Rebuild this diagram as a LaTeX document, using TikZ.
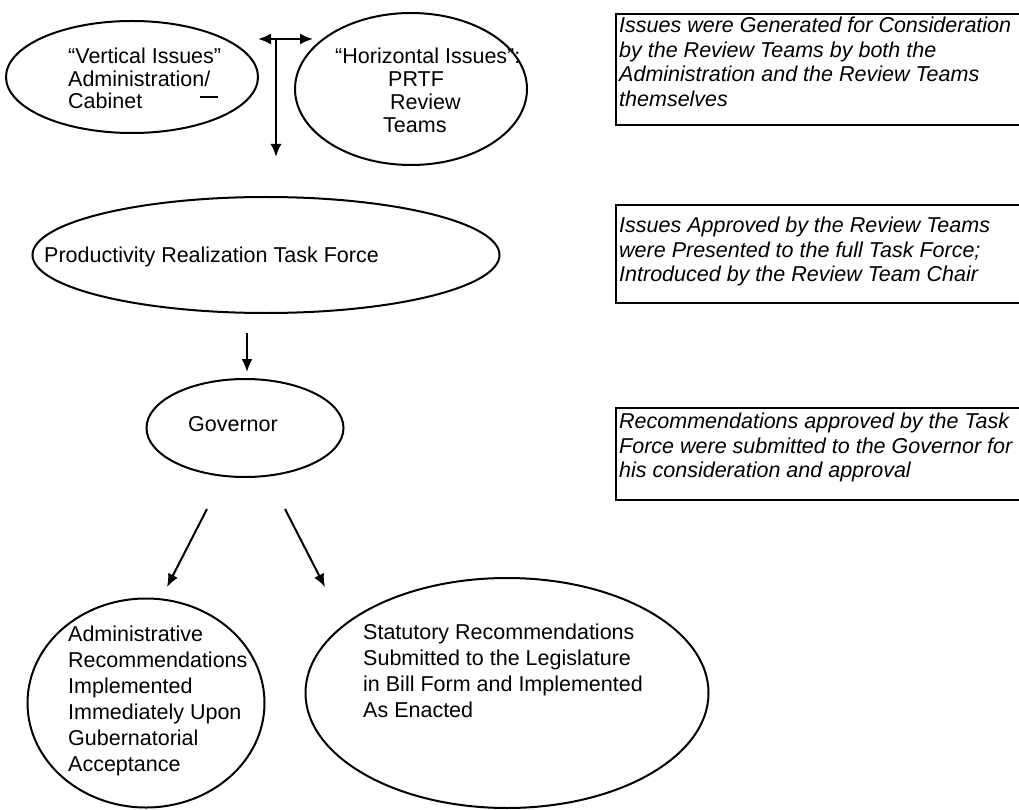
\documentclass[tikz,border=0pt]{standalone}
\usepackage{fontspec}
\setmainfont{Liberation Sans}
\usetikzlibrary{shapes.geometric,arrows.meta}

\newcommand{\txtsz}[1]{\fontsize{21.5}{#1}\selectfont}

\begin{document}
\begin{tikzpicture}[x=1pt, y=-1pt,
  bubble/.style={draw, ellipse, line width=2pt, inner sep=0pt},
  words/.style={anchor=north west, align=left, inner sep=0pt, font=\txtsz{24}},
  frame/.style={draw, line width=1.4pt},
  flow/.style={line width=2pt, -{Latex[length=13pt,width=11pt]}}]
\useasboundingbox (0,0) rectangle (1019,810);

% where the issues come from
\node[bubble, minimum width=252, minimum height=112] (vert) at (132,77) {};
\node[words, font=\txtsz{22.5}] (vertlbl) at (68,48) {“Vertical Issues”\\Administration/\\Cabinet};
\draw[line width=2pt] (200,97) -- (218,97);
\node[bubble, minimum width=232, minimum height=152] (horiz) at (411,89) {};
\node[words, font=\txtsz{23}] (horizlbl) at (335,48) {“Horizontal Issues”:\\\hspace*{53pt}PRTF\\\hspace*{55pt}Review\\\hspace*{48pt}Teams};

\coordinate (split) at (276,39);
\coordinate (splitL) at (258,39);
\coordinate (splitR) at (313,39);
\coordinate (splitD) at (276,157);
\draw[flow, {Latex[length=13pt,width=11pt]}-{Latex[length=13pt,width=11pt]}] (splitL) -- (splitR);
\draw[flow] (split) -- (splitD);

% task force and governor
\node[bubble, minimum width=467, minimum height=116] (prtf) at (266,255) {};
\node[words, anchor=west] (prtflbl) at (44,257) {Productivity Realization Task Force};
\coordinate (p1) at (247,333);
\coordinate (p2) at (247,372);
\draw[flow] (p1) -- (p2);

\node[bubble, minimum width=197, minimum height=98] (gov) at (245,428) {};
\node[words, anchor=west] (govlbl) at (188,424) {Governor};
\coordinate (g1) at (207,509);
\coordinate (g2) at (167,587);
\coordinate (g3) at (285,509);
\coordinate (g4) at (325,587);
\draw[flow] (g1) -- (g2);
\draw[flow] (g3) -- (g4);

% outcomes
\node[bubble, minimum width=237, minimum height=209] (admin) at (146,703) {};
\node[words, font=\txtsz{26}] (adminlbl) at (68,626) {Administrative\\Recommendations\\Implemented\\Immediately Upon\\Gubernatorial\\Acceptance};
\node[bubble, minimum width=403, minimum height=230] (stat) at (507,693) {};
\node[words, font=\txtsz{26}] (statlbl) at (363,624) {Statutory Recommendations\\Submitted to the Legislature\\in Bill Form and Implemented\\As Enacted};

% notes on the right
\draw[frame] (616,14) rectangle (1030,125);
\node[words, font=\txtsz{24.5}\itshape] (note1) at (619,17) {Issues were Generated for Consideration\\by the Review Teams by both the\\Administration and the Review Teams\\themselves};
\draw[frame] (616,205) rectangle (1030,303);
\node[words, font=\txtsz{24.5}\itshape] (note2) at (619,217) {Issues Approved by the Review Teams\\were Presented to the full Task Force;\\Introduced by the Review Team Chair};
\draw[frame] (616,408) rectangle (1030,500);
\node[words, font=\txtsz{24.5}\itshape] (note3) at (619,413) {Recommendations approved by the Task\\Force were submitted to the Governor for\\his consideration and approval};
\end{tikzpicture}
\end{document}
